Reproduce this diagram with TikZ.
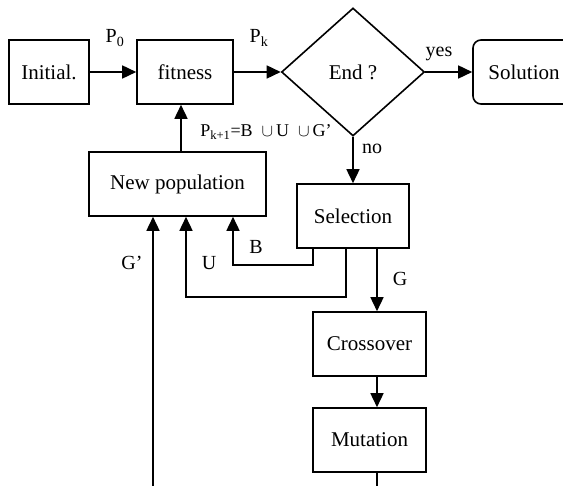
\documentclass[tikz,border=0pt]{standalone}
\usepackage{fontspec}
\setmainfont{Liberation Serif}
\usetikzlibrary{arrows.meta,shapes.geometric}
\tikzset{
  fbox/.style   ={rectangle, draw=black, line width=1.6pt, inner sep=0pt,
                  minimum height=64pt, font=\fontsize{21}{25}\selectfont},
  fround/.style ={fbox, rounded corners=8pt},
  fdecide/.style={diamond, draw=black, line width=1.6pt, inner sep=0pt,
                  minimum width=143pt, minimum height=128pt,
                  font=\fontsize{21}{25}\selectfont},
  fline/.style  ={line width=1.6pt, black},
  farrow/.style ={fline, -{Triangle[length=14pt, width=13pt]}},
  flabel/.style ={font=\fontsize{20}{24}\selectfont, inner sep=0pt},
}
\begin{document}
\begin{tikzpicture}[x=1pt, y=-1pt]
  \useasboundingbox (0,0) rectangle (563,486);
  % boxes
  \node[fbox, minimum width=80pt]  (init)     at (49,72)     {Initial.};
  \node[fbox, minimum width=96pt]  (fitness)  at (185,72)    {fitness};
  \node[fdecide]                   (endq)     at (353,72)    {End ?};
  \node[fround, minimum width=102pt] (solution) at (524,72)  {Solution};
  \node[fbox, minimum width=177pt] (newpop)   at (177.5,184) {New population};
  \node[fbox, minimum width=112pt] (select)   at (353,216)   {Selection};
  \node[fbox, minimum width=113pt] (cross)    at (369.5,344) {Crossover};
  \node[fbox, minimum width=113pt] (mutate)   at (369.5,440) {Mutation};
  \coordinate (gbot) at (153,486);
  \coordinate (mbot) at (377,486);
  % main flow
  \draw[farrow] (init) -- (fitness);
  \draw[farrow] (fitness) -- (endq);
  \draw[farrow] (endq.east) -- (solution);
  \draw[farrow] (endq.south) -- (select);
  \draw[farrow] ([xshift=3.5pt]newpop.north) -- ([xshift=-4pt]fitness.south);
  \draw[farrow] ([xshift=24pt]select.south) -- ([xshift=7.5pt]cross.north);
  \draw[farrow] ([xshift=7.5pt]cross.south) -- ([xshift=7.5pt]mutate.north);
  \draw[fline] ([xshift=7.5pt]mutate.south) -- (mbot);
  % back to the new population
  \draw[farrow] ([xshift=-40pt]select.south) -- ++(0,16) -| ([xshift=55.5pt]newpop.south);
  \draw[farrow] ([xshift=-7pt]select.south) -- ++(0,48) -| ([xshift=8.5pt]newpop.south);
  \draw[farrow] (gbot) -- (gbot |- newpop.south);
  % labels
  \node[flabel] (lp0)  at (115,38)  {P\textsubscript{0}};
  \node[flabel] (lpk)  at (259,38)  {P\textsubscript{k}};
  \node[flabel] (lyes) at (439,54)  {yes};
  \node[flabel] (lno)  at (372,149) {no};
  \node[flabel, font=\fontsize{18}{21}\selectfont] (lnext) at (266,132)
    {P\textsubscript{k+1}=B\ \ $\cup$\,U\ \ $\cup$\,G’};
  \node[flabel] (lb)   at (256,247) {B};
  \node[flabel] (lu)   at (209,263) {U};
  \node[flabel] (lg2)  at (132,263) {G’};
  \node[flabel] (lg)   at (400,279) {G};
\end{tikzpicture}
\end{document}
